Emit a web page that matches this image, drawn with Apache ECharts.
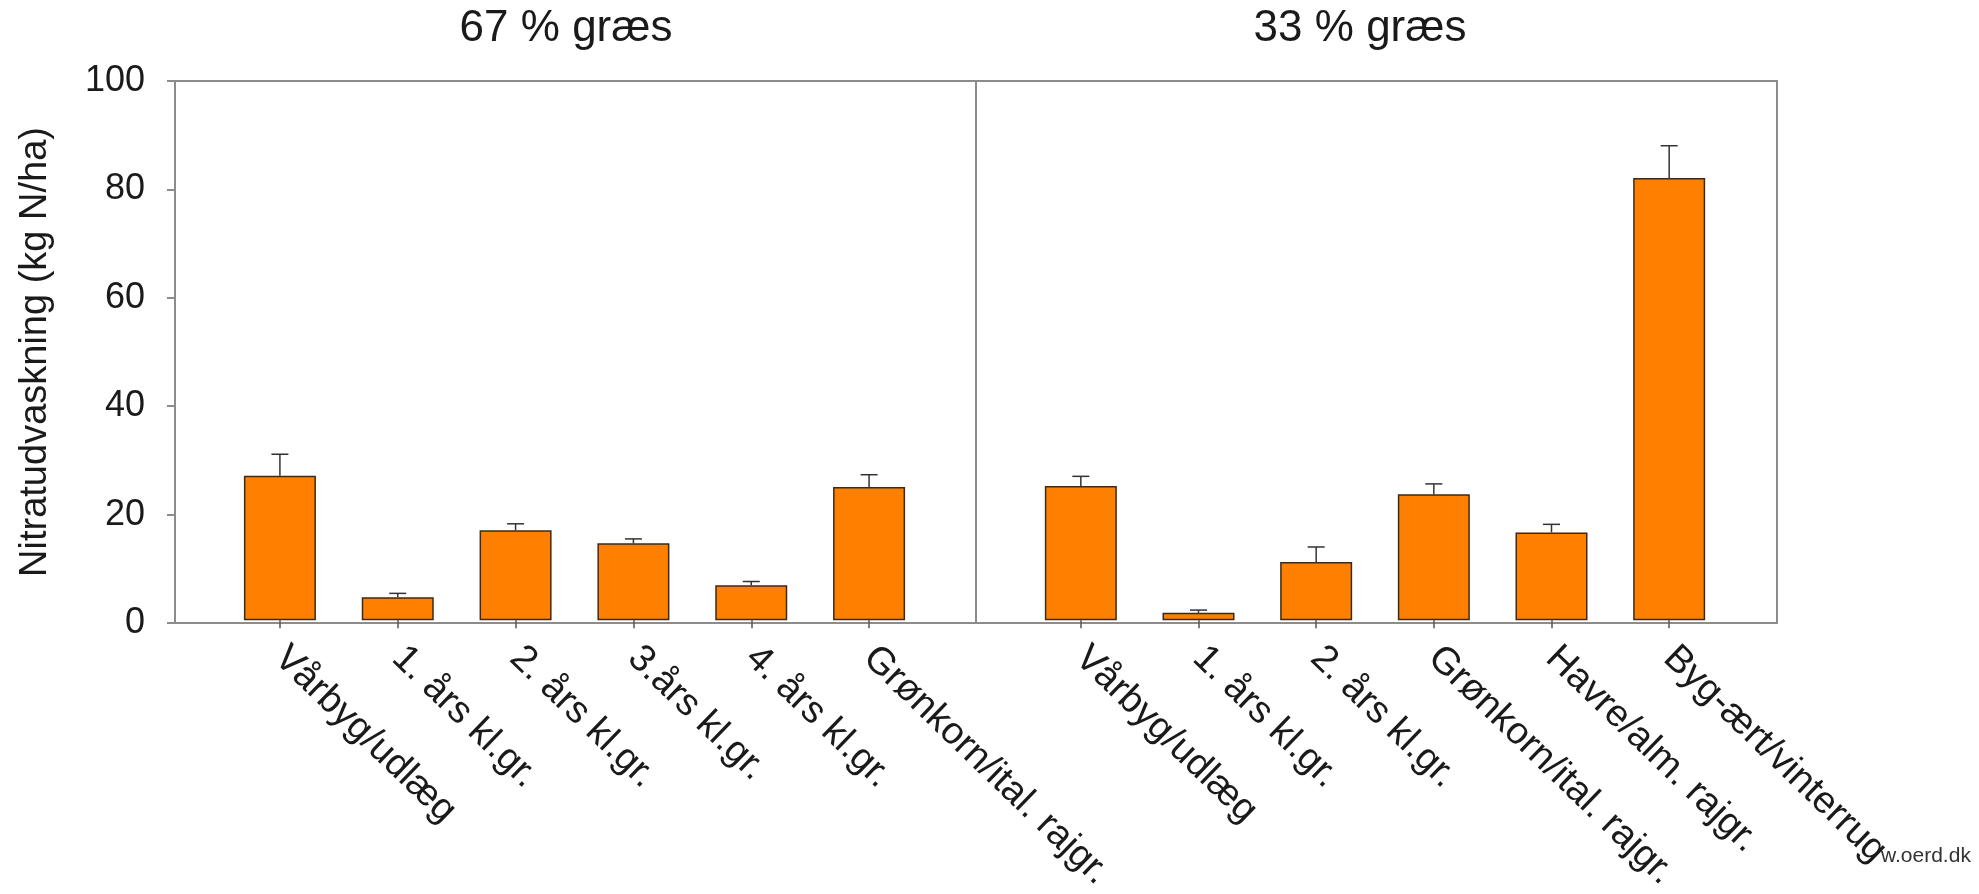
<!DOCTYPE html>
<html>
<head>
<meta charset="utf-8">
<script src="https://cdn.jsdelivr.net/npm/echarts@6/dist/echarts.min.js"></script>
<style>
html,body{margin:0;padding:0;background:#fff;}
#chart{width:1979px;height:894px;}
</style>
</head>
<body>
<div id="chart"></div>
<script>
// ---- data ----
const panelTitles = ['67 % græs', '33 % græs'];
const categories67 = ['Vårbyg/udlæg', '1. års kl.gr.', '2. års kl.gr.', '3.års kl.gr.', '4. års kl.gr.', 'Grønkorn/ital. rajgr.'];
const values67 = [26.8, 4.3, 16.7, 14.3, 6.5, 24.7];
const errors67 = [4.0, 0.7, 1.2, 0.8, 0.7, 2.3];
const categories33 = ['Vårbyg/udlæg', '1. års kl.gr.', '2. års kl.gr.', 'Grønkorn/ital. rajgr.', 'Havre/alm. rajgr.', 'Byg-ært/vinterrug'];
const values33 = [24.9, 1.4, 10.8, 23.4, 16.3, 82.0];
const errors33 = [1.8, 0.5, 2.8, 1.9, 1.5, 6.0];
const yMin = 0, yMax = 100, yStep = 20;
const yAxisName = 'Nitratudvaskning (kg N/ha)';
const watermark = 'w.oerd.dk';

// ---- chart ----
const FONT = '"Liberation Sans", Arial, sans-serif';
const TXT = '#1a1a1a';
const FRAME = '#8c8c8c';
const BAR = '#ff8000';

const chart = echarts.init(document.getElementById('chart'), null, {renderer: 'canvas'});

const TOP = 81, HEIGHT = 542;

function errData(vals, errs) {
  return vals.map((v, i) => [i, v, v + errs[i]]);
}

function errRender(params, api) {
  const x = api.value(0);
  const lo = api.coord([x, api.value(1)]);
  const hi = api.coord([x, api.value(2)]);
  const hw = 8.5;
  const style = {stroke: '#333', lineWidth: 1.5};
  return {
    type: 'group',
    children: [
      {type: 'line', shape: {x1: lo[0], y1: lo[1], x2: hi[0], y2: hi[1]}, style: style},
      {type: 'line', shape: {x1: hi[0] - hw, y1: hi[1], x2: hi[0] + hw, y2: hi[1]}, style: style}
    ]
  };
}

const hiddenValueY = {type: 'value', min: yMin, max: yMax, interval: yStep, show: false};

const catX = (gi, cats) => ({
  type: 'category', gridIndex: gi, data: cats,
  axisLine: {show: false},
  axisTick: {show: true, alignWithLabel: true, length: 8, lineStyle: {color: '#555', width: 1.5}},
  axisLabel: {rotate: -44, margin: 32, interval: 0, fontSize: 38, fontFamily: FONT, color: TXT}
});

const option = {
  animation: false,
  backgroundColor: '#fff',
  title: [
    {text: panelTitles[0], left: 561, top: 2, textAlign: 'center',
     textStyle: {fontSize: 44, fontWeight: 'normal', fontFamily: FONT, color: TXT}},
    {text: panelTitles[1], left: 1355, top: 2, textAlign: 'center',
     textStyle: {fontSize: 44, fontWeight: 'normal', fontFamily: FONT, color: TXT}}
  ],
  grid: [
    {left: 175, top: TOP, width: 801, height: HEIGHT, show: true, borderColor: FRAME, borderWidth: 2, backgroundColor: 'transparent'},
    {left: 221, top: TOP, width: 707, height: HEIGHT},
    {left: 976, top: TOP, width: 801, height: HEIGHT, show: true, borderColor: FRAME, borderWidth: 2, backgroundColor: 'transparent'},
    {left: 1022, top: TOP, width: 706, height: HEIGHT}
  ],
  xAxis: [
    {type: 'value', gridIndex: 0, show: false, min: 0, max: 1},
    catX(1, categories67),
    {type: 'value', gridIndex: 2, show: false, min: 0, max: 1},
    catX(3, categories33)
  ],
  yAxis: [
    {type: 'value', gridIndex: 0, min: yMin, max: yMax, interval: yStep,
     name: yAxisName, nameLocation: 'middle', nameGap: 120, nameRotate: 90,
     nameTextStyle: {fontSize: 38, fontFamily: FONT, color: TXT},
     axisLine: {show: true, lineStyle: {color: FRAME, width: 2}},
     axisTick: {show: true, length: 8, lineStyle: {color: FRAME, width: 2}},
     axisLabel: {fontSize: 36, fontFamily: FONT, color: TXT, margin: 30},
     splitLine: {show: false}},
    Object.assign({gridIndex: 1}, hiddenValueY),
    Object.assign({gridIndex: 2}, hiddenValueY),
    Object.assign({gridIndex: 3}, hiddenValueY)
  ],
  series: [
    {type: 'bar', xAxisIndex: 1, yAxisIndex: 1, data: values67, barWidth: 72,
     itemStyle: {color: BAR, borderColor: '#3b2a1a', borderWidth: 1.5}},
    {type: 'custom', xAxisIndex: 1, yAxisIndex: 1, data: errData(values67, errors67), renderItem: errRender, z: 5},
    {type: 'bar', xAxisIndex: 3, yAxisIndex: 3, data: values33, barWidth: 72,
     itemStyle: {color: BAR, borderColor: '#3b2a1a', borderWidth: 1.5}},
    {type: 'custom', xAxisIndex: 3, yAxisIndex: 3, data: errData(values33, errors33), renderItem: errRender, z: 5}
  ],
  graphic: [
    {type: 'text', left: 1881, top: 846, style: {text: watermark, fontSize: 21, fontFamily: FONT, fill: '#333'}}
  ]
};
chart.setOption(option);
</script>
</body>
</html>
